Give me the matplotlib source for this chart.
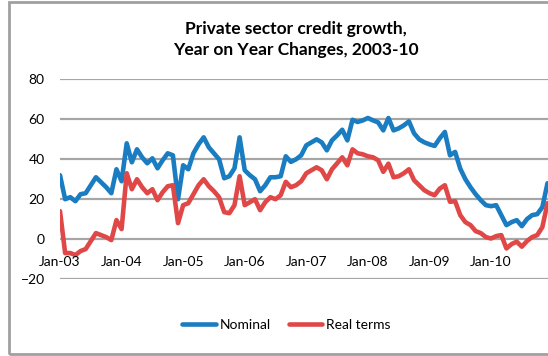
import matplotlib.pyplot as plt
import matplotlib.patches as mpatches
import numpy as np

# monthly year-on-year growth, Jan-2003 .. Dec-2010 (percent)
nominal = [32, 20, 21, 19, 22.5, 23, 27, 31, 28.5, 26, 23, 35,
           29, 48, 38.5, 45, 41, 38, 40.5, 35.5, 39.5, 43, 42, 20,
           37, 35, 43, 47.5, 51, 46, 43, 40, 30.5, 31.5, 35.5, 51,
           34.5, 32, 30, 24, 27, 31, 31, 31.5, 41.5, 38.7, 40, 42,
           47, 48.5, 50, 48.5, 44.5, 49.5, 52, 54.8, 49.5, 59.8, 58.7, 59.5,
           60.7, 59.5, 58.5, 54.5, 60.7, 54.5, 55.5, 57, 59, 53, 50, 48.5,
           47.5, 46.7, 50.5, 53.7, 42, 43.7, 35.3, 30, 26, 22.5, 19.5, 17,
           16.5, 17, 12, 7, 8.5, 9.5, 6.5, 10, 12, 12.5, 16, 28]
real_terms = [14, -7, -7, -8, -6, -5, -1, 3, 2, 1, -0.5, 9.5,
              5, 33, 25, 30, 26, 23, 25, 19.5, 23.5, 26.5, 27, 8,
              17, 18, 22.5, 27, 30, 26.5, 24, 21, 13.5, 13, 17, 31.5,
              17, 18.5, 20, 14.5, 18.5, 21, 20, 22, 28.7, 26, 27, 29,
              33, 34.5, 36, 34.5, 30, 35, 38, 41, 37, 45, 43, 42.5,
              41.5, 41, 39.5, 33.7, 37.8, 31, 31.5, 33, 35, 29.5, 27, 24.5,
              23, 22, 25.3, 27, 18.7, 19, 12, 8.5, 7, 4, 3, 1,
              0.3, 1.5, 2, -4.7, -2.5, -1.3, -3.8, -1, 1, 2, 6, 18]
xlabels = ['Jan-03', 'Jan-04', 'Jan-05', 'Jan-06', 'Jan-07', 'Jan-08', 'Jan-09', 'Jan-10']

plt.rcParams['font.family'] = ['Lato', 'DejaVu Sans']

fig = plt.figure(figsize=(5.48, 3.56), dpi=100)
ax = fig.add_axes([0.1095, 0.2163, 0.8905, 0.5604])

months = np.arange(len(nominal))
ax.plot(months, nominal, color='#1a7cc1', lw=3.3, label='Nominal', solid_capstyle='round')
ax.plot(months, real_terms, color='#e04848', lw=3.3, label='Real terms', solid_capstyle='round')

ax.set_xlim(0, 95.1)
ax.set_ylim(-20, 80)
ax.set_yticks(np.arange(-20, 81, 20))
ax.yaxis.grid(True, color='#a6a6a6', lw=1.6)
ax.set_axisbelow(True)
for s in ['top', 'right', 'left', 'bottom']:
    ax.spines[s].set_visible(False)
ax.set_xticks([])
ax.tick_params(axis='y', length=0, pad=11, labelsize=10)

# category labels hang just under the zero line, drawn over the series
for i, lab in enumerate(xlabels):
    ax.annotate(lab, xy=(i * 12, 0), xytext=(0, -23), textcoords='offset pixels',
                ha='center', va='center', fontsize=10, zorder=5)

fig.text(0.54, 0.89, 'Private sector credit growth,\nYear on Year Changes, 2003-10',
         ha='center', va='center', fontsize=12.5, fontweight='bold', linespacing=1.4)

fig.legend(loc='center', bbox_to_anchor=(0.523, 0.087), ncol=2, frameon=False,
           fontsize=10, handlelength=2.4, handletextpad=0.3, columnspacing=1.3)

# outer chart border, running off the right edge
fig.patches.append(mpatches.Rectangle((9 / 548, 2 / 356), 1.2, 352 / 356, transform=fig.transFigure,
                                      fill=False, edgecolor='#a0a0a0', lw=2))

plt.savefig('out.png', dpi=100)
